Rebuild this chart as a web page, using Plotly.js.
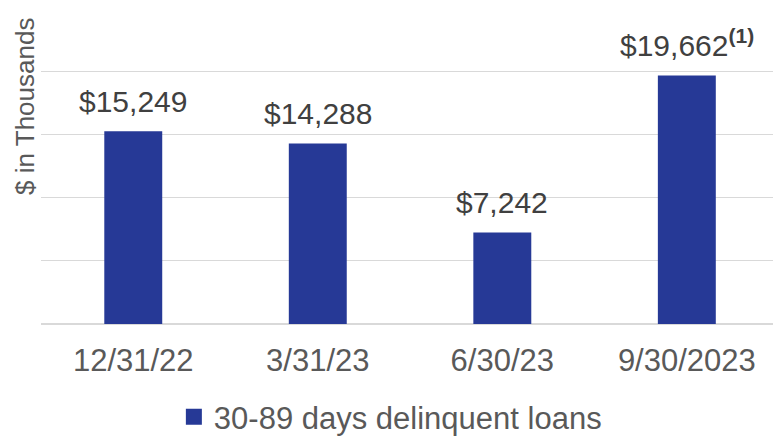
<!DOCTYPE html>
<html>
<head>
<meta charset="utf-8">
<script src="https://cdn.plot.ly/plotly-3.0.1.min.js"></script>
<style>html,body{margin:0;padding:0;background:#fff;}#chart{width:773px;height:438px;}</style>
</head>
<body>
<div id="chart"></div>
<script>
const categories = ["12/31/22", "3/31/23", "6/30/23", "9/30/2023"];
const values = [15249, 14288, 7242, 19662];
const labels = ["$15,249", "$14,288", "$7,242", "$19,662<sup><b>(1)</b></sup>"];
const seriesName = "30-89 days delinquent loans";
const yTitle = "$ in Thousands";

const barColor = "#263996";

const trace = {
  type: "bar",
  x: categories,
  y: values,
  name: seriesName,
  marker: {color: barColor},
  showlegend: false,
  hoverinfo: "skip"
};

// legend entry with a larger square swatch (no data of its own)
const legendTrace = {
  type: "scatter", mode: "markers",
  x: [null], y: [null],
  name: seriesName,
  marker: {symbol: "square", size: 18, color: barColor},
  showlegend: true,
  hoverinfo: "skip"
};

const annotations = categories.map((c, i) => ({
  x: c, y: values[i], xref: "x", yref: "y",
  text: labels[i], showarrow: false,
  yanchor: "bottom", yshift: 11,
  font: {family: "Liberation Sans, Arial, sans-serif", size: 30, color: "#404040"}
}));
annotations.push({
  xref: "paper", yref: "paper", x: 0, y: 0.687, xshift: -16,
  text: yTitle, showarrow: false, textangle: -90,
  xanchor: "center", yanchor: "middle",
  font: {family: "Liberation Sans, Arial, sans-serif", size: 26, color: "#595959"}
});

const layout = {
  width: 773, height: 438,
  margin: {l: 41, r: 0, t: 8, b: 114, autoexpand: false},
  paper_bgcolor: "#ffffff", plot_bgcolor: "#ffffff",
  bargap: 0.686,
  showlegend: true,
  legend: {
    orientation: "h", xref: "container", yref: "container",
    x: 0.505, xanchor: "center", y: 0.048, yanchor: "middle",
    font: {family: "Liberation Sans, Arial, sans-serif", size: 31, color: "#595959"},
    itemwidth: 30
  },
  xaxis: {
    type: "category", automargin: false,
    range: [-0.5, 3.467],
    showgrid: false, zeroline: false, showline: false,
    ticks: "", ticklabelstandoff: 15,
    tickfont: {family: "Liberation Sans, Arial, sans-serif", size: 31, color: "#595959"},
    fixedrange: true
  },
  yaxis: {
    range: [0, 25000], dtick: 5000, automargin: false,
    showgrid: true, gridcolor: "#d9d9d9", gridwidth: 1,
    zeroline: true, zerolinecolor: "#d9d9d9", zerolinewidth: 1.5,
    showticklabels: false, ticks: "", showline: false,
    fixedrange: true
  },
  annotations: annotations
};

Plotly.newPlot("chart", [trace, legendTrace], layout, {displayModeBar: false, staticPlot: true});
</script>
</body>
</html>
